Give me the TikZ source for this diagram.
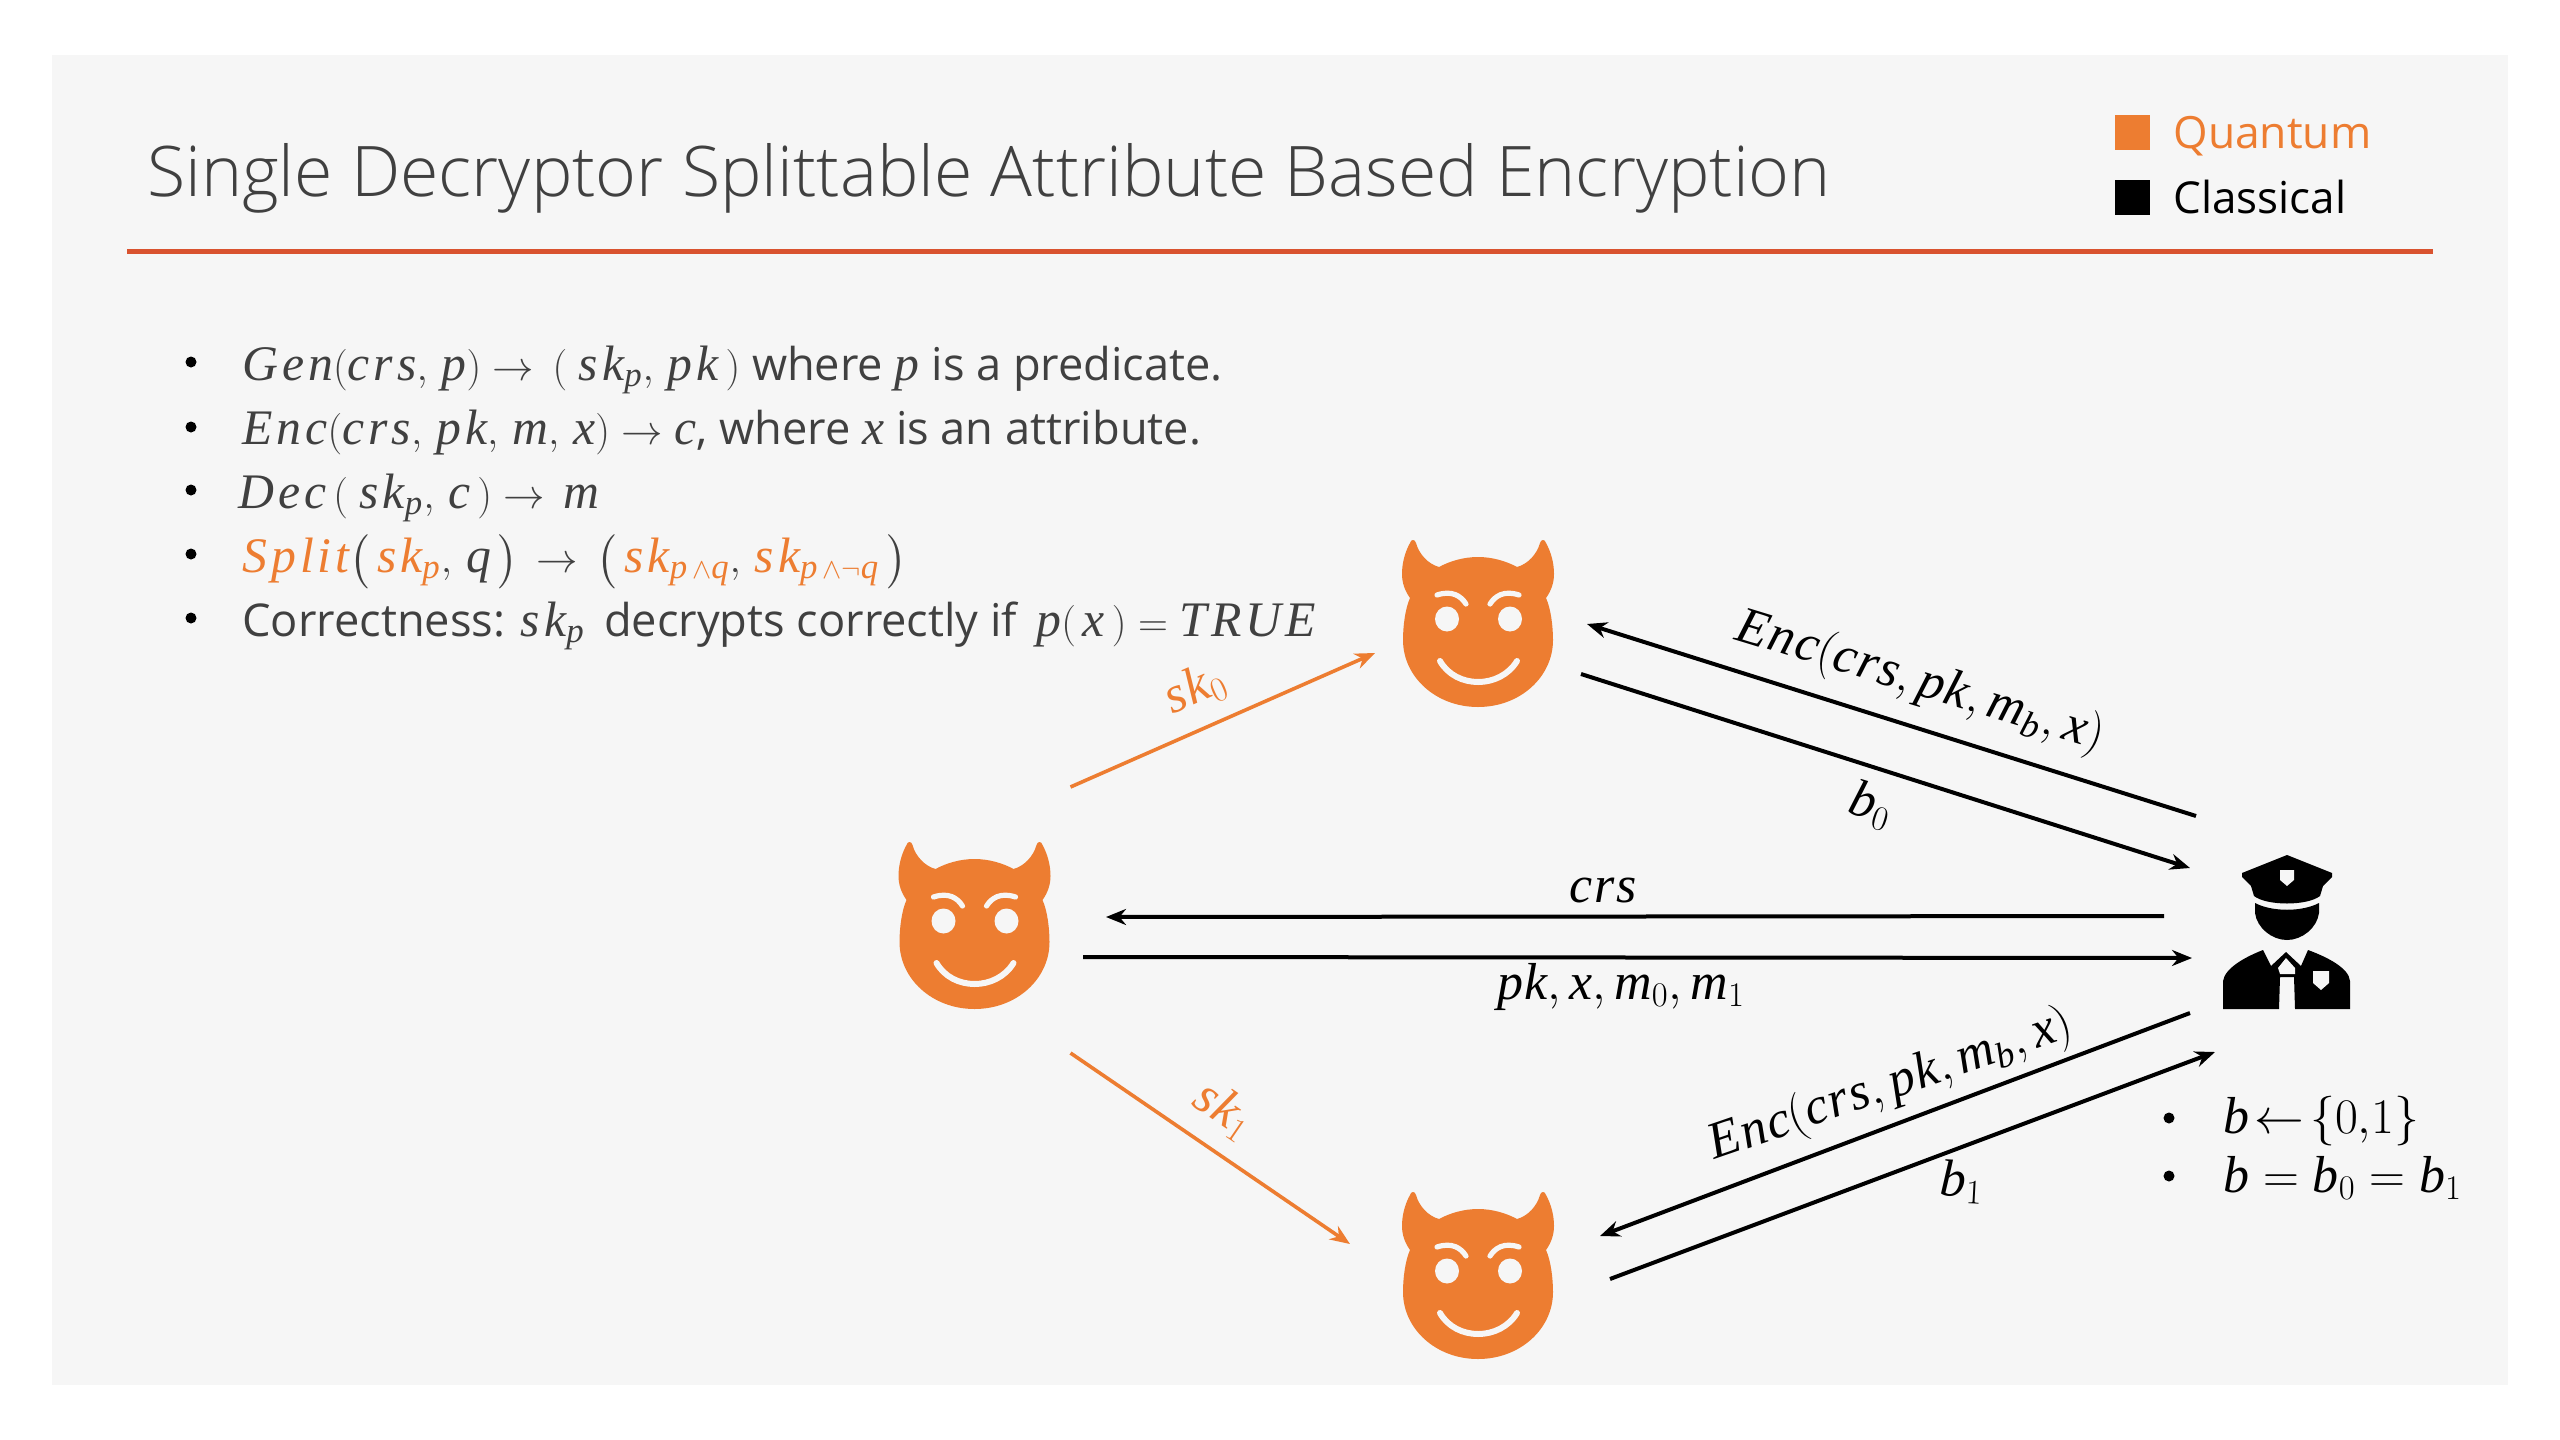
\documentclass[tikz,border=0pt]{standalone}
\usepackage[no-math]{fontspec}
\usepackage{amsmath, amssymb}
\setmainfont{Open Sans}
\newfontfamily\lightfont{Open Sans Light}
\newfontfamily\letterfont[Scale=1.04,LetterSpace=3]{Liberation Serif}
\newfontfamily\listfont[Scale=1.1,LetterSpace=8]{Liberation Serif}
\usetikzlibrary{arrows.meta}
\definecolor{quantum}{HTML}{ED7D31}
\definecolor{panelgray}{HTML}{F6F6F6}
\definecolor{bodygray}{HTML}{404040}
\definecolor{rulered}{HTML}{D9532F}
\tikzstyle{classical}=[draw=black,line width=2pt,-{Stealth[length=10pt,width=8pt]}]
\tikzstyle{quantumarrow}=[draw=quantum,line width=1.8pt,-{Stealth[length=10pt,width=8pt]}]
\tikzstyle{figbox}=[inner sep=0pt,minimum width=80pt,minimum height=84pt]
\tikzstyle{listitem}=[anchor=base west,inner sep=0pt,text=bodygray,font=\fontsize{22.6}{28}\selectfont]
\tikzstyle{dot}=[circle,fill=black,inner sep=0pt,minimum size=5.5pt]
\tikzstyle{msg}=[inner sep=0pt,font=\fontsize{25}{30}\selectfont]
\newcommand{\mi}[1]{\text{\letterfont\itshape #1}}
\newcommand{\li}[1]{\text{\listfont\itshape #1}}
\newcommand{\devilface}[1]{
	\begin{scope}[shift={(#1.center)}]
		\fill[quantum] (0,-67) .. controls (-14,-67) and (-28,-63) .. (-39,-57) .. controls (-50,-60) and (-59,-70) .. (-62,-81) .. controls (-63,-85) and (-67,-85) .. (-68,-81) .. controls (-73,-72) and (-76,-61) .. (-76,-50) .. controls (-76,-41) and (-73,-33) .. (-68,-26) .. controls (-73,-15) and (-75,3) .. (-75,16) .. controls (-75,53) and (-42,83) .. (0,83) .. controls (42,83) and (75,53) .. (75,16) .. controls (75,3) and (73,-15) .. (68,-26) .. controls (73,-33) and (76,-41) .. (76,-50) .. controls (76,-61) and (73,-72) .. (68,-81) .. controls (67,-85) and (63,-85) .. (62,-81) .. controls (59,-70) and (50,-60) .. (39,-57) .. controls (28,-63) and (14,-67) .. (0,-67);
		\fill[panelgray] (-31,-5) ellipse (12 and 12.5);
		\fill[panelgray] (32,-5) ellipse (12 and 12.5);
		\draw[panelgray,line width=2.6pt,line cap=round] (-12,-20) .. controls (-17,-28) and (-26,-34) .. (-41,-29);
		\draw[panelgray,line width=2.6pt,line cap=round] (12,-20) .. controls (17,-28) and (26,-34) .. (41,-29);
		\draw[panelgray,line width=3pt,line cap=round] (-38,37) .. controls (-22,65) and (22,65) .. (39,37);
	\end{scope}
}
\newcommand{\officer}[1]{
	\begin{scope}[shift={(#1.center)}]
		\fill[black] (0,-78) -- (45,-60) -- (45,-56) -- (36,-47) -- (33,-37) .. controls (20,-27) and (-20,-27) .. (-33,-37) -- (-36,-47) -- (-45,-56) -- (-45,-60) -- cycle;
		\fill[panelgray] (-7,-63) -- (7,-63) -- (7,-53) -- (0,-47) -- (-7,-53) -- cycle;
		\fill[black] (-32,-30) .. controls (-15,-21) and (15,-21) .. (32,-30) -- (32,-20) .. controls (30,-5) and (15,7) .. (0,7) .. controls (-15,7) and (-30,-5) .. (-32,-20) -- cycle;
		\fill[black] (-64,76) -- (-64,48) .. controls (-62,35) and (-42,24) .. (-24,17) -- (-16,33) -- (-1,19) -- (14,33) -- (21,17) .. controls (40,24) and (62,35) .. (63,48) -- (63,76) -- (8,76) -- (7,44) -- (-7,44) -- (-8,76) -- cycle;
		\fill[panelgray] (-1,25) -- (8,35) -- (8,41) -- (-7,41) -- (-9,35) -- cycle;
		\fill[panelgray] (26,38) -- (42,38) -- (42,50) -- (34,57) -- (26,50) -- cycle;
	\end{scope}
}
\begin{document}
\begin{tikzpicture}[x=.5pt,y=-.5pt]
	\useasboundingbox (0,0) rectangle (2560,1440);
	\fill[white] (0,0) rectangle (2560,1440);
	\fill[panelgray] (52,55) rectangle (2508,1385);
	% heading
	\node[anchor=base west,inner sep=0pt,text=bodygray,font=\lightfont\fontsize{34.9}{40}\selectfont] (title) at (147,196) {Single Decryptor Splittable Attribute Based Encryption};
	\coordinate (ruleleft) at (127,251);
	\coordinate (ruleright) at (2433,251);
	\draw[rulered,line width=2.5pt] (ruleleft) -- (ruleright);
	\fill[quantum] (2115,115) rectangle (2150,150);
	\fill[black] (2115,180) rectangle (2150,215);
	\node[anchor=base west,inner sep=0pt,text=quantum,font=\fontsize{22.2}{26}\selectfont] (quantumkey) at (2173,148) {Quantum};
	\node[anchor=base west,inner sep=0pt,font=\fontsize{22}{26}\selectfont] (classicalkey) at (2173,213) {Classical};
	% scheme
	\node[dot] (gendot) at (191,362) {};
	\node[dot] (encdot) at (191,427) {};
	\node[dot] (decdot) at (191,490) {};
	\node[dot] (splitdot) at (191,554) {};
	\node[dot] (corrdot) at (191,618) {};
	\node[listitem] (gen) at (242,380) {$\li{Gen}(\li{crs},\,\li{p})\rightarrow\,(\;\li{sk}_{\li{p}},\,\li{pk}\,)$ where $\li{p}$ is a predicate.};
	\node[listitem] (enc) at (242,444) {$\li{Enc}(\li{crs},\,\li{pk},\,\li{m},\,\li{x})\rightarrow \li{c}$, where $\li{x}$ is an attribute.};
	\node[listitem] (dec) at (238,508) {$\li{Dec}\,(\;\li{sk}_{\li{p}},\,\li{c}\,)\rightarrow \,\li{m}$};
	\node[listitem] (split) at (242,572) {$\textcolor{quantum}{\li{Split}}\bigl(\,\textcolor{quantum}{\li{sk}_{\li{p}}},\,\li{q}\,\bigr)\,\rightarrow\,\bigl(\,\textcolor{quantum}{\li{sk}_{\li{p}\,\wedge \li{q}}},\,\textcolor{quantum}{\li{sk}_{\li{p}\,\wedge\neg \li{q}}}\,\bigr)$};
	\node[listitem] (corr) at (242,636) {Correctness: $\li{sk}_{\li{p}}$\, decrypts correctly if \,$\li{p}(\,\li{x}\,)=\li{TRUE}$};
	% parties
	\node[figbox] (advtop) at (1478,624) {};
	\node[figbox] (advleft) at (974.5,926) {};
	\node[figbox] (advbot) at (1478,1276) {};
	\node[figbox] (chal) at (2287,933) {};
	\devilface{advtop}
	\devilface{advleft}
	\devilface{advbot}
	\officer{chal}
	% messages
	\draw[quantumarrow] ([shift={(96,-139)}]advleft.center) -- ([shift={(-103,29)}]advtop.center) node[pos=.46,sloped,above=8pt,inner sep=0pt,text=quantum,font=\fontsize{25}{30}\selectfont] (skzero) {$\mi{sk}_0$};
	\draw[quantumarrow] ([shift={(96,127)}]advleft.center) -- ([shift={(-128,-32)}]advbot.center) node[pos=.47,sloped,above=8pt,inner sep=0pt,text=quantum,font=\fontsize{25}{30}\selectfont] (skone) {$\mi{sk}_1$};
	\draw[classical] ([shift={(-91,-117)}]chal.center) -- ([shift={(109,0)}]advtop.center);
	\draw[classical] ([shift={(103,50)}]advtop.center) -- ([shift={(-97,-65)}]chal.center);
	\draw[classical] ([shift={(-123,-17)}]chal.center) -- ([shift={(131.5,-9)}]advleft.center);
	\draw[classical] ([shift={(108.5,31)}]advleft.center) -- ([shift={(-95,25)}]chal.center);
	\draw[classical] ([shift={(-97,80)}]chal.center) -- ([shift={(122,-40)}]advbot.center);
	\draw[classical] ([shift={(132,3)}]advbot.center) -- ([shift={(-72,119)}]chal.center);
	\node[msg,rotate=-17] (encup) at (1920,683) {$\mi{Enc}(\mi{crs},\mi{pk},\mi{m}_{\mi{b}},\mi{x})$};
	\node[msg,rotate=-17] (bzero) at (1871,805) {$\mi{b}_0$};
	\node[msg] (crslabel) at (1603,890) {$\mi{crs}$};
	\node[msg] (pklabel) at (1621,987) {$\mi{pk},\mi{x},\mi{m}_0,\mi{m}_1$};
	\node[msg,rotate=19] (encdown) at (1891,1086) {$\mi{Enc}(\mi{crs},\mi{pk},\mi{m}_{\mi{b}},\mi{x})$};
	\node[msg,rotate=-3] (bone) at (1962,1182) {$\mi{b}_1$};
	% challenger's conditions
	\node[dot] (pickdot) at (2169,1118) {};
	\node[dot] (eqdot) at (2169,1176) {};
	\node[msg,anchor=base west] (pick) at (2223,1133) {$\mi{b}\mspace{-3mu}\leftarrow\mspace{-3mu}\{0{,}1\}$};
	\node[msg,anchor=base west] (eq) at (2223,1192) {$\mi{b}=\mi{b}_0=\mi{b}_1$};
\end{tikzpicture}
\end{document}
